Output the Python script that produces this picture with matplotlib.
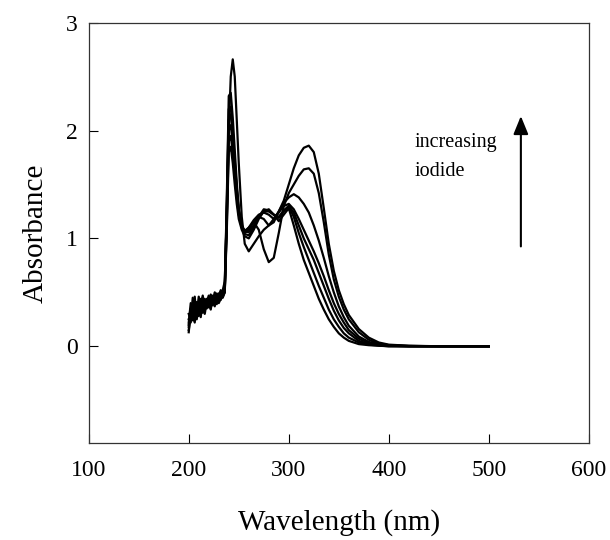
import numpy as np
import matplotlib
matplotlib.use("Agg")
import matplotlib.pyplot as plt

plt.rcParams['font.family'] = ['Liberation Serif', 'DejaVu Serif']

# wavelength grid (nm), shared by all spectra
wl = [200, 202, 204, 206, 208, 210, 212, 214, 216, 218, 220, 222, 224, 226, 228, 230, 232, 234,
      236, 238, 240, 242, 244, 246, 248, 250, 253, 256, 260,
      265, 270, 275, 280, 285, 290, 295, 300, 305, 310, 315, 320, 325, 330, 335, 340, 345,
      350, 355, 360, 370, 380, 390, 400, 420, 450, 500]

# absorbance spectra, lowest to highest iodide
a0 = [0.20, 0.30, 0.24, 0.36, 0.28, 0.33, 0.30, 0.40, 0.34, 0.37, 0.41, 0.36, 0.43, 0.39, 0.42, 0.40, 0.44, 0.46,
      0.50, 1.05, 1.80, 1.85, 1.70, 1.50, 1.32, 1.18, 1.08, 1.02, 1.00,
      1.08, 1.18, 1.25, 1.27, 1.22, 1.16, 1.22, 1.28, 1.12, 0.95, 0.80, 0.68, 0.56, 0.44, 0.34, 0.25, 0.18,
      0.12, 0.08, 0.05, 0.02, 0.01, 0.005, 0.0, 0.0, 0.0, 0.0]
a1 = [0.15, 0.28, 0.35, 0.26, 0.38, 0.30, 0.42, 0.33, 0.39, 0.35, 0.43, 0.40, 0.38, 0.45, 0.41, 0.46, 0.43, 0.48,
      0.52, 1.10, 1.90, 1.95, 1.80, 1.58, 1.38, 1.22, 1.10, 1.04, 1.03,
      1.10, 1.20, 1.27, 1.26, 1.22, 1.19, 1.25, 1.30, 1.20, 1.05, 0.92, 0.80, 0.68, 0.56, 0.45, 0.34, 0.25,
      0.18, 0.12, 0.08, 0.035, 0.015, 0.007, 0.0, 0.0, 0.0, 0.0]
a2 = [0.25, 0.22, 0.38, 0.31, 0.27, 0.41, 0.35, 0.31, 0.44, 0.38, 0.36, 0.45, 0.40, 0.44, 0.48, 0.42, 0.47, 0.45,
      0.50, 1.15, 2.00, 2.05, 1.88, 1.64, 1.42, 1.25, 1.12, 1.06, 1.06,
      1.12, 1.20, 1.25, 1.25, 1.22, 1.20, 1.26, 1.30, 1.24, 1.12, 1.00, 0.90, 0.80, 0.68, 0.56, 0.44, 0.33,
      0.24, 0.17, 0.12, 0.05, 0.02, 0.01, 0.004, 0.0, 0.0, 0.0]
a3 = [0.13, 0.33, 0.28, 0.22, 0.40, 0.35, 0.27, 0.43, 0.37, 0.42, 0.39, 0.34, 0.46, 0.42, 0.39, 0.48, 0.45, 0.50,
      0.50, 1.25, 2.10, 2.15, 1.95, 1.70, 1.45, 1.26, 1.12, 1.07, 1.10,
      1.17, 1.22, 1.24, 1.22, 1.18, 1.24, 1.30, 1.32, 1.27, 1.18, 1.08, 0.98, 0.88, 0.77, 0.65, 0.52, 0.40,
      0.30, 0.22, 0.15, 0.07, 0.03, 0.013, 0.006, 0.0, 0.0, 0.0]
a4 = [0.22, 0.40, 0.32, 0.46, 0.25, 0.37, 0.44, 0.36, 0.30, 0.41, 0.47, 0.39, 0.43, 0.37, 0.49, 0.44, 0.50, 0.47,
      0.52, 1.30, 2.20, 2.22, 2.00, 1.72, 1.47, 1.27, 1.12, 1.06, 1.08,
      1.15, 1.20, 1.18, 1.12, 1.15, 1.25, 1.33, 1.38, 1.41, 1.38, 1.32, 1.24, 1.12, 0.98, 0.82, 0.65, 0.50,
      0.37, 0.27, 0.19, 0.09, 0.04, 0.018, 0.008, 0.002, 0.0, 0.0]
a5 = [0.30, 0.24, 0.45, 0.34, 0.41, 0.28, 0.39, 0.47, 0.35, 0.44, 0.38, 0.48, 0.42, 0.50, 0.44, 0.47, 0.52, 0.49,
      0.55, 1.35, 2.32, 2.35, 2.12, 1.82, 1.52, 1.27, 1.10, 1.05, 1.10,
      1.15, 1.08, 0.90, 0.78, 0.82, 1.05, 1.30, 1.42, 1.50, 1.58, 1.64, 1.65, 1.60, 1.42, 1.15, 0.85, 0.62,
      0.46, 0.34, 0.25, 0.13, 0.06, 0.025, 0.01, 0.003, 0.0, 0.0]
a6 = [0.18, 0.35, 0.25, 0.42, 0.30, 0.46, 0.33, 0.45, 0.40, 0.36, 0.44, 0.41, 0.47, 0.43, 0.46, 0.49, 0.48, 0.52,
      0.60, 1.20, 2.00, 2.50, 2.66, 2.50, 2.10, 1.70, 1.20, 0.95, 0.88,
      0.95, 1.02, 1.08, 1.12, 1.18, 1.25, 1.35, 1.50, 1.65, 1.77, 1.84, 1.86, 1.80, 1.60, 1.28, 0.95, 0.70,
      0.52, 0.39, 0.29, 0.16, 0.08, 0.035, 0.015, 0.005, 0.0, 0.0]

spectra = [a0, a1, a2, a3, a4, a5, a6]

fig = plt.figure(figsize=(6.1, 5.4), dpi=100)
ax = fig.add_axes([0.1454, 0.179, 0.82, 0.779])

for a in spectra:
    ax.plot(wl, a, color='black', lw=1.6)

ax.set_xlim(100, 600)
ax.set_ylim(-0.9, 3)
ax.set_xticks([100, 200, 300, 400, 500, 600])
ax.set_yticks([0, 1, 2, 3])
ax.tick_params(direction='in', length=6.5, width=0.8, labelsize=17, pad=12,
               top=False, right=False)
ax.tick_params(axis='y', pad=8)
for s in ax.spines.values():
    s.set_linewidth(0.9)
    s.set_color('#333333')

ax.set_xlabel('Wavelength (nm)', fontsize=21, labelpad=20)
ax.set_ylabel('Absorbance', fontsize=21, labelpad=12)

ax.annotate('', xy=(532, 2.16), xytext=(532, 0.9),
            arrowprops=dict(arrowstyle='-|>,head_width=0.45,head_length=1.1',
                            color='black', lw=1.5))
ax.text(426, 1.98, 'increasing\niodide', fontsize=14.5, va='top', ha='left',
        linespacing=1.75)

fig.savefig('out.png', dpi=100)
